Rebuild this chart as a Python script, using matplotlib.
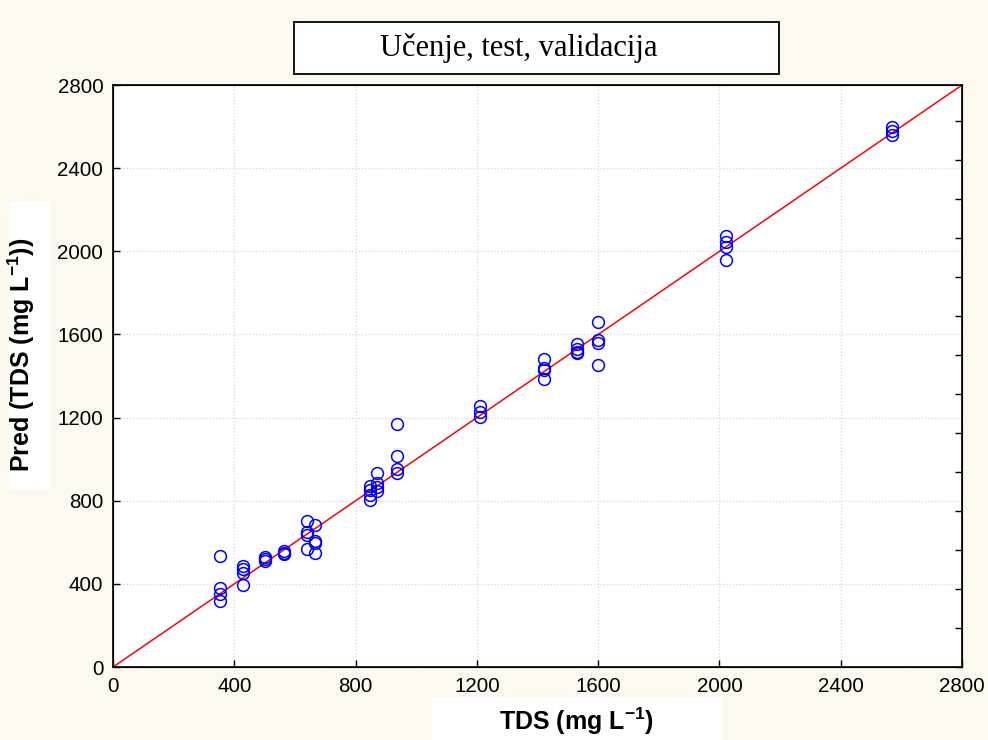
import numpy as np
import matplotlib
matplotlib.use("Agg")
import matplotlib.pyplot as plt
from matplotlib.patches import Rectangle

plt.rcParams['font.family'] = ['Liberation Sans', 'DejaVu Sans']
plt.rcParams['mathtext.fontset'] = 'custom'
plt.rcParams['mathtext.bf'] = 'Liberation Sans:bold'
plt.rcParams['mathtext.rm'] = 'Liberation Sans'

# measured TDS vs predicted TDS (mg/L)
tds = [353, 353, 353, 353,
       429, 429, 429, 429,
       501, 501, 501,
       564, 564, 564,
       640, 640, 640, 640,
       666, 666, 666, 666,
       848, 848, 848, 848,
       871, 871, 871, 871,
       937, 937, 937, 937,
       1210, 1210, 1210,
       1421, 1421, 1421, 1421,
       1530, 1530, 1530, 1530,
       1600, 1600, 1600, 1600,
       2022, 2022, 2022, 2022,
       2569, 2569, 2569]
pred = [534, 380, 352, 318,
        484, 470, 452, 393,
        527, 518, 510,
        559, 550, 543,
        704, 648, 635, 566,
        683, 608, 595, 547,
        871, 852, 828, 803,
        935, 883, 864, 847,
        1168, 1015, 951, 932,
        1258, 1228, 1204,
        1483, 1440, 1429, 1386,
        1552, 1532, 1517, 1509,
        1661, 1573, 1560, 1453,
        2072, 2046, 2022, 1959,
        2597, 2578, 2558]

ticks = [0, 400, 800, 1200, 1600, 2000, 2400, 2800]
title = "Učenje, test, validacija"
xlabel = r"TDS (mg L$^{\mathbf{-1}}$)"
ylabel = r"Pred (TDS (mg L$^{\mathbf{-1}}$))"

bg = '#fef9ee'
fig = plt.figure(figsize=(9.88, 7.4), dpi=100, facecolor=bg)
ax = fig.add_axes([0.1144, 0.0986, 0.8593, 0.7865])
ax.set_facecolor('white')

ax.plot([0, 2800], [0, 2800], color='red', lw=1.1, zorder=2)
ax.plot(tds, pred, 'o', mfc='none', mec='blue', mew=1.1, ms=8.5, zorder=3)

ax.set_xlim(0, 2800)
ax.set_ylim(0, 2800)
ax.set_xticks(ticks)
ax.set_yticks(ticks)
ax.tick_params(direction='in', length=5, width=1, labelsize=14.8, pad=7)
ax.grid(True, ls=':', color='#d8d8d8', lw=0.9)
for s in ax.spines.values():
    s.set_linewidth(1.2)

# small ticks on the right frame
ax2 = ax.twinx()
ax2.set_ylim(0, 2800)
ax2.set_yticks(np.arange(0, 2800, 187.5))
ax2.tick_params(direction='in', length=5, width=1, labelright=False)

# title box
fig.patches.append(Rectangle((294 / 988, 1 - 74 / 740), 485 / 988, 52 / 740,
                             transform=fig.transFigure, facecolor='white',
                             edgecolor='black', lw=1.3))
fig.text(519 / 988, 1 - 48 / 740, title, ha='center', va='center',
         family=['Liberation Serif', 'DejaVu Serif'], fontsize=22)

# axis label boxes
fig.patches.append(Rectangle((432 / 988, 0), 290 / 988, 43 / 740,
                             transform=fig.transFigure, facecolor='white',
                             edgecolor='none'))
fig.text(577 / 988, 19 / 740, xlabel, ha='center', va='center',
         fontsize=18, fontweight='bold')

fig.patches.append(Rectangle((9 / 988, 1 - 490 / 740), 41 / 988, 289 / 740,
                             transform=fig.transFigure, facecolor='white',
                             edgecolor='none'))
fig.text(21 / 988, 1 - 355 / 740, ylabel, ha='center', va='center',
         rotation=90, fontsize=18, fontweight='bold')

fig.savefig("out.png", dpi=100, facecolor=bg)
